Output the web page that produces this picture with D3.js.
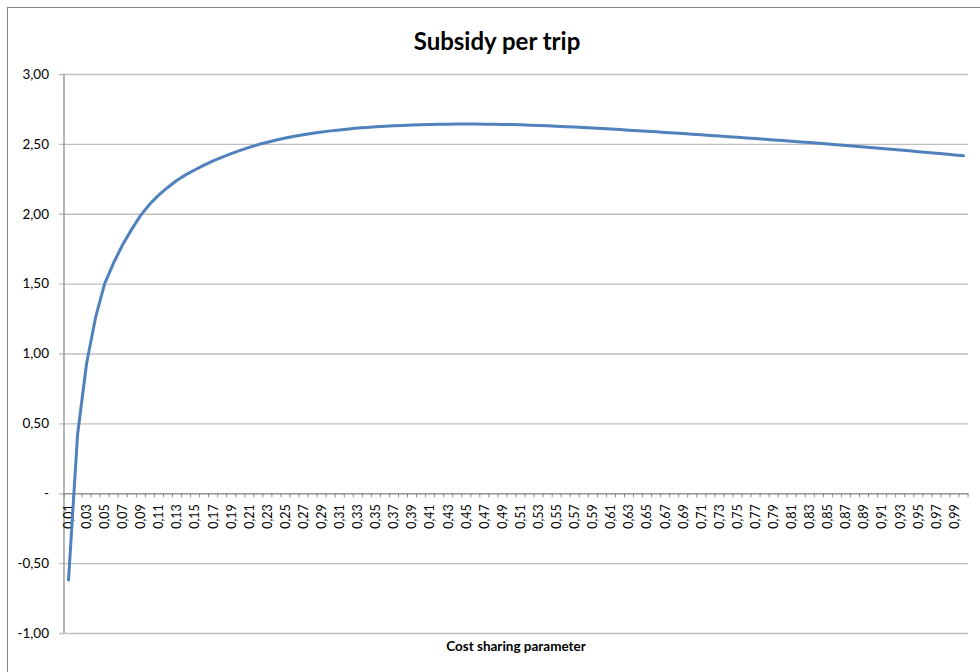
<!DOCTYPE html>
<html>
<head>
<meta charset="utf-8">
<script src="https://cdn.jsdelivr.net/npm/d3@7"></script>
<style>
  html, body { margin: 0; padding: 0; background: #fff; }
  svg { display: block; font-family: Lato, "Liberation Sans", sans-serif; }
</style>
</head>
<body>
<svg id="chart" width="980" height="672"></svg>
<script>
// Cost sharing parameter categories 0,01 … 1,00
const categories = [
  "0,01","0,02","0,03","0,04","0,05","0,06","0,07","0,08","0,09","0,10",
  "0,11","0,12","0,13","0,14","0,15","0,16","0,17","0,18","0,19","0,20",
  "0,21","0,22","0,23","0,24","0,25","0,26","0,27","0,28","0,29","0,30",
  "0,31","0,32","0,33","0,34","0,35","0,36","0,37","0,38","0,39","0,40",
  "0,41","0,42","0,43","0,44","0,45","0,46","0,47","0,48","0,49","0,50",
  "0,51","0,52","0,53","0,54","0,55","0,56","0,57","0,58","0,59","0,60",
  "0,61","0,62","0,63","0,64","0,65","0,66","0,67","0,68","0,69","0,70",
  "0,71","0,72","0,73","0,74","0,75","0,76","0,77","0,78","0,79","0,80",
  "0,81","0,82","0,83","0,84","0,85","0,86","0,87","0,88","0,89","0,90",
  "0,91","0,92","0,93","0,94","0,95","0,96","0,97","0,98","0,99","1,00"
];

// Subsidy per trip for each category
const subsidy = [
  -0.62, 0.42, 0.93, 1.26, 1.50, 1.65, 1.78, 1.89, 1.99, 2.07,
  2.135, 2.19, 2.24, 2.28, 2.315, 2.348, 2.378, 2.405, 2.43, 2.453,
  2.475, 2.495, 2.512, 2.528, 2.542, 2.555, 2.566, 2.576, 2.585, 2.593,
  2.600, 2.607, 2.613, 2.618, 2.622, 2.626, 2.629, 2.632, 2.635, 2.637,
  2.639, 2.640, 2.641, 2.642, 2.642, 2.642, 2.641, 2.640, 2.639, 2.638,
  2.636, 2.634, 2.632, 2.629, 2.626, 2.623, 2.620, 2.617, 2.614, 2.610,
  2.606, 2.602, 2.598, 2.594, 2.590, 2.586, 2.582, 2.578, 2.574, 2.569,
  2.565, 2.560, 2.556, 2.551, 2.547, 2.542, 2.538, 2.533, 2.528, 2.524,
  2.519, 2.514, 2.509, 2.504, 2.499, 2.494, 2.489, 2.483, 2.478, 2.472,
  2.467, 2.461, 2.456, 2.450, 2.444, 2.439, 2.433, 2.427, 2.421, 2.415
];

// Value axis ticks and their printed labels
const yTicks = [-1, -0.5, 0, 0.5, 1, 1.5, 2, 2.5, 3];
const yTickLabels = ["-1,00", "-0,50", "-", "0,50", "1,00", "1,50", "2,00", "2,50", "3,00"];

// Every other category carries a label
const xTickLabels = categories.filter((d, i) => i % 2 === 0);

const titleText = "Subsidy per trip";
const xAxisTitle = "Cost sharing parameter";

const svg = d3.select("#chart");
const plot = { left: 64, right: 968, top: 74, bottom: 633 };

const x = d3.scaleBand().domain(categories).range([plot.left, plot.right]).padding(0);
const y = d3.scaleLinear().domain([-1, 3]).range([plot.bottom, plot.top]);

const gridColor = "#bfbfbf";
const axisColor = "#868686";

// chart border
svg.append("rect")
  .attr("x", 7.5).attr("y", 7.5)
  .attr("width", 990).attr("height", 690)
  .attr("fill", "#fff")
  .attr("stroke", axisColor)
  .attr("stroke-width", 1);

// title
svg.append("text")
  .attr("x", 497).attr("y", 50)
  .attr("text-anchor", "middle")
  .attr("font-size", 24)
  .attr("font-weight", "bold")
  .attr("fill", "#000")
  .text(titleText);

// horizontal gridlines + value axis
const yAxis = d3.axisLeft(y)
  .tickValues(yTicks)
  .tickSize(plot.right - plot.left + 5)
  .tickFormat((d, i) => yTickLabels[i]);

const gy = svg.append("g")
  .attr("transform", `translate(${plot.right},0)`)
  .call(yAxis);
gy.select(".domain").remove();
gy.selectAll(".tick line")
  .attr("stroke", gridColor)
  .attr("stroke-width", 1.3);
gy.selectAll(".tick text")
  .attr("x", -(plot.right - plot.left) - 15)
  .attr("font-size", 13.5)
  .attr("fill", "#000")
  .attr("font-family", "Lato, 'Liberation Sans', sans-serif");

// vertical value axis line
svg.append("line")
  .attr("x1", plot.left).attr("x2", plot.left)
  .attr("y1", plot.top).attr("y2", plot.bottom)
  .attr("stroke", axisColor)
  .attr("stroke-width", 1.2);

// category axis at zero
const y0 = y(0);
const xAxis = d3.axisBottom(x)
  .tickValues(xTickLabels)
  .tickSize(0)
  .tickPadding(0);
const gx = svg.append("g")
  .attr("transform", `translate(0,${y0})`)
  .call(xAxis);
gx.select(".domain")
  .attr("stroke", axisColor)
  .attr("stroke-width", 1.2);
gx.selectAll(".tick text")
  .attr("transform", "translate(0,11) rotate(-90)")
  .attr("text-anchor", "end")
  .attr("x", 0).attr("y", 0)
  .attr("dy", "0.35em")
  .attr("font-size", 12.5)
  .attr("fill", "#000")
  .attr("font-family", "Lato, 'Liberation Sans', sans-serif");

// category boundary tick marks
const boundaries = categories.map(c => x(c)).concat([x.range()[1]]);
gx.selectAll(".boundary")
  .data(boundaries)
  .join("line")
  .attr("class", "boundary")
  .attr("x1", d => d).attr("x2", d => d)
  .attr("y1", 0).attr("y2", 4)
  .attr("stroke", axisColor)
  .attr("stroke-width", 1);

// category axis title
svg.append("text")
  .attr("x", (plot.left + plot.right) / 2).attr("y", 651)
  .attr("text-anchor", "middle")
  .attr("font-size", 13.5)
  .attr("font-weight", "bold")
  .attr("fill", "#000")
  .text(xAxisTitle);

// subsidy line
const line = d3.line()
  .x((d, i) => x(categories[i]) + x.bandwidth() / 2)
  .y(d => y(d));

svg.append("path")
  .datum(subsidy)
  .attr("d", line)
  .attr("fill", "none")
  .attr("stroke", "#4f81bd")
  .attr("stroke-width", 3)
  .attr("stroke-linejoin", "round")
  .attr("stroke-linecap", "round");
</script>
</body>
</html>
